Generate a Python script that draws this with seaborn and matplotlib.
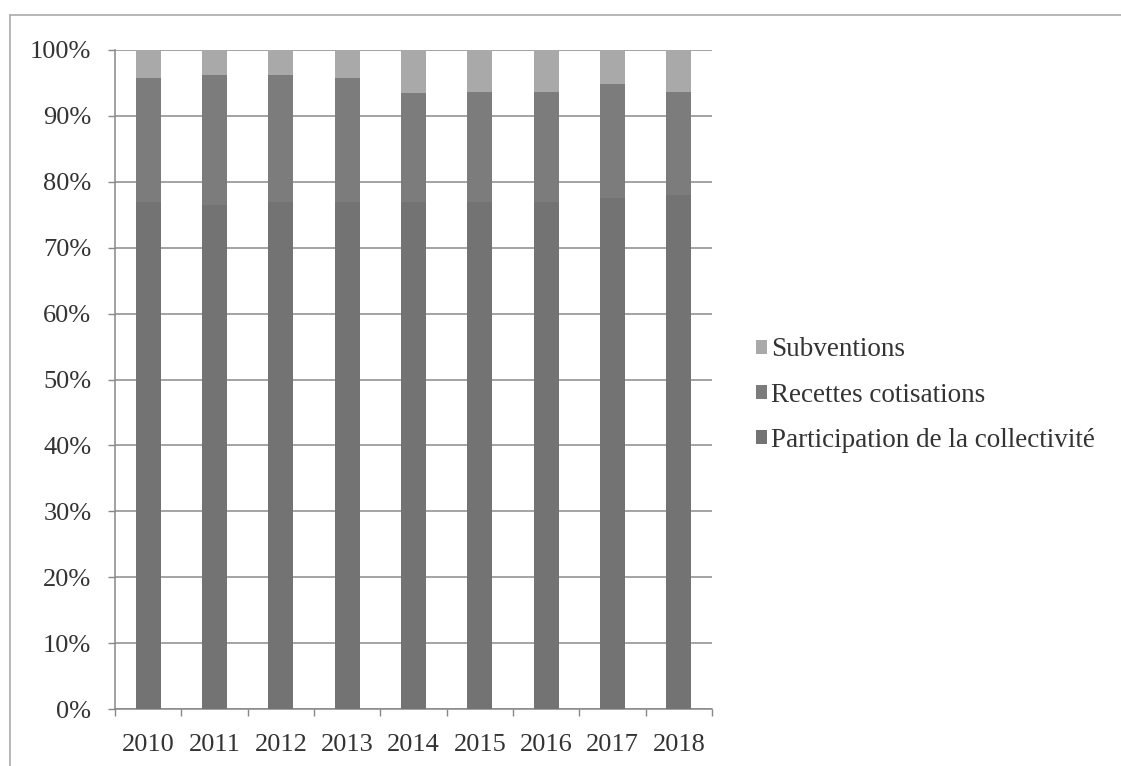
import matplotlib
matplotlib.use("Agg")
import matplotlib.pyplot as plt
from matplotlib.lines import Line2D
from matplotlib.patches import Patch
from matplotlib.ticker import FuncFormatter, FixedLocator
import seaborn as sns
import pandas as pd

years = ["2010", "2011", "2012", "2013", "2014", "2015", "2016", "2017", "2018"]
participation = [77.0, 76.5, 77.0, 77.0, 77.0, 77.0, 77.0, 77.5, 78.0]
recettes = [18.7, 19.7, 19.2, 18.8, 16.4, 16.7, 16.7, 17.4, 15.7]
subventions = [4.3, 3.8, 3.8, 4.2, 6.6, 6.3, 6.3, 5.1, 6.3]

labels = ["Subventions", "Recettes cotisations", "Participation de la collectivité"]
colors = {"Subventions": "#a9a9a9",
          "Recettes cotisations": "#7c7c7c",
          "Participation de la collectivité": "#737373"}

df = pd.DataFrame({"year": years,
                   "part": participation,
                   "rec": recettes,
                   "sub": subventions})
df["top_rec"] = df["part"] + df["rec"]
df["top_sub"] = df["top_rec"] + df["sub"]

sns.set_theme(style="white")
plt.rcParams["font.family"] = ["Liberation Serif", "DejaVu Serif"]

fig = plt.figure(figsize=(11.21, 7.66), dpi=100)
ax = fig.add_axes([115 / 1121, 1 - 709 / 766, 597 / 1121, 659 / 766])

bw = 0.38
bar_kw = dict(width=bw, ax=ax, zorder=3, saturation=1, linewidth=0, edgecolor="none")
sns.barplot(data=df, x="year", y="top_sub", color=colors["Subventions"], **bar_kw)
sns.barplot(data=df, x="year", y="top_rec", color=colors["Recettes cotisations"], **bar_kw)
sns.barplot(data=df, x="year", y="part", color=colors["Participation de la collectivité"], **bar_kw)

ax.set_ylim(0, 100)
ax.set_xlim(-0.5, len(years) - 0.5)
ax.set_xlabel("")
ax.set_ylabel("")
ax.yaxis.set_major_locator(FixedLocator(range(0, 101, 10)))
ax.yaxis.set_major_formatter(FuncFormatter(lambda v, p: f"{int(v)}%"))
ax.yaxis.grid(True, color="#8a8a8a", linewidth=1.1, zorder=0)
ax.set_axisbelow(True)

for s in ["top", "right"]:
    ax.spines[s].set_visible(False)
for s in ["left", "bottom"]:
    ax.spines[s].set_color("#888888")
    ax.spines[s].set_linewidth(1.1)

ax.tick_params(axis="y", which="major", left=True, length=5, width=1,
               color="#888888", labelsize=19, labelcolor="#333333", pad=12)
ax.tick_params(axis="x", which="major", bottom=False, labelsize=19,
               labelcolor="#333333", pad=12)
ax.set_xticks(range(len(years)))
ax.set_xticklabels(years)
ax.set_xticks([i + 0.5 for i in range(-1, len(years))], minor=True)
ax.tick_params(axis="x", which="minor", bottom=True, length=5, width=1,
               color="#888888")

handles = [Patch(facecolor=colors[l], edgecolor="none") for l in labels]
fig.legend(handles, labels, loc="center left", bbox_to_anchor=(756 / 1121, 1 - 395 / 766),
           frameon=False, fontsize=19.5, handlelength=0.42, handleheight=0.42,
           handletextpad=0.15, labelspacing=0.75, labelcolor="#333333",
           borderpad=0, borderaxespad=0)

# outer frame
fig.add_artist(Line2D([10 / 1121, 10 / 1121], [0, 1 - 15 / 766], color="#aaaaaa", lw=1.2))
fig.add_artist(Line2D([10 / 1121, 1], [1 - 15 / 766, 1 - 15 / 766], color="#aaaaaa", lw=1.2))

fig.savefig("out.png", dpi=100)
